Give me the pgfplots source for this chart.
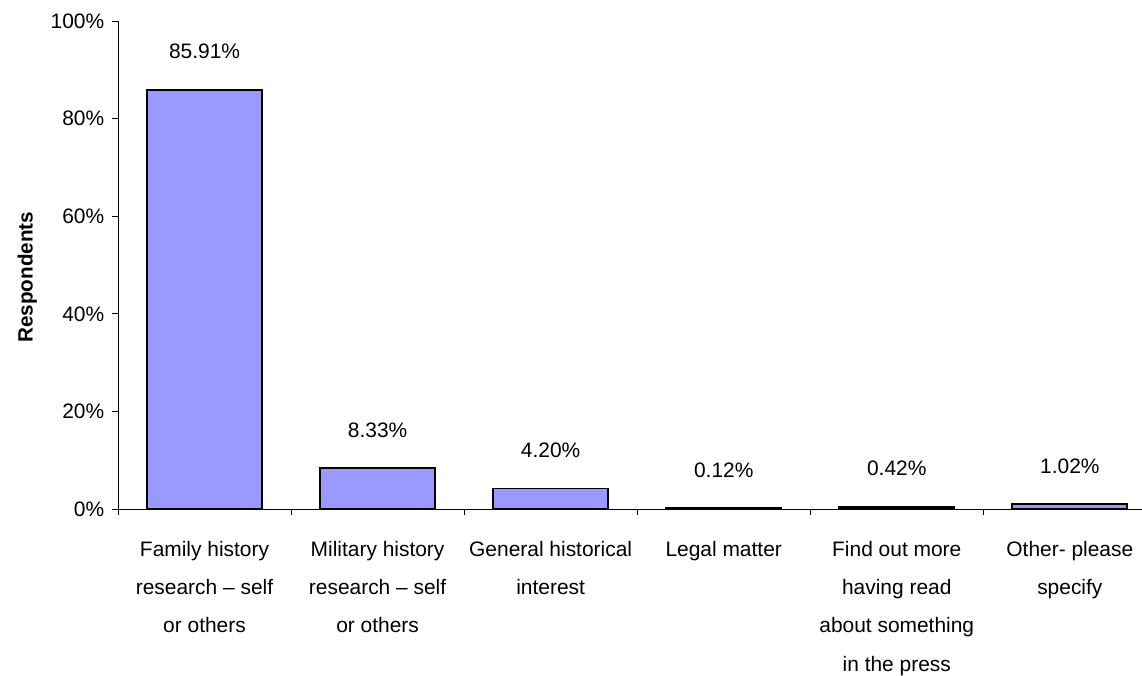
\documentclass[border=0pt]{standalone}
\usepackage{fontspec}
\setmainfont{Liberation Sans}
\usepackage{pgfplots}
\pgfplotsset{compat=1.18}
\definecolor{barfill}{HTML}{9999FF}
\begin{document}
\begin{tikzpicture}
\begin{axis}[
  scale only axis,
  width=768pt, height=366pt,
  xmin=-0.5, xmax=5.417,
  ymin=0, ymax=100,
  axis x line=bottom, axis y line=left,
  axis line style={-, black, line width=0.7pt},
  tick align=outside,
  major tick length=4.5pt,
  minor tick length=4.5pt,
  xtick={0,1,2,3,4,5},
  xticklabels={{Family history\\research – self\\or others},
               {Military history\\research – self\\or others},
               {General historical\\interest},
               {Legal matter},
               {Find out more\\having read\\about something\\in the press},
               {Other- please\\specify}},
  major x tick style={draw=none},
  minor xtick={-0.5,0.5,1.5,2.5,3.5,4.5},
  minor x tick style={black, line width=0.7pt},
  y tick style={black, line width=0.7pt},
  x tick label style={align=center, font=\fontsize{15.7}{28.7}\selectfont, yshift=-16pt},
  ytick={0,20,40,60,80,100},
  yticklabel={\pgfmathprintnumber{\tick}\%},
  y tick label style={font=\fontsize{15.7}{18}\selectfont, xshift=-2.3pt},
  /pgf/number format/assume math mode=true,
  ylabel={\textbf{Respondents}},
  ylabel style={at={(axis description cs:-0.0885,0.475)}, rotate=0, anchor=center, font=\fontsize{15.5}{18}\selectfont},
  clip=false,
]
\addplot[ybar, bar width=0.664, fill=barfill, draw=black, line width=1.4pt,
  nodes near coords={\pgfmathprintnumber[fixed, fixed zerofill, precision=2]{\pgfplotspointmeta}\%},
  every node near coord/.append style={anchor=base, yshift=23.25pt, inner sep=0pt, font=\fontsize{15.7}{18}\selectfont, text=black},
] coordinates {(0,85.91) (1,8.33) (2,4.20) (3,0.12) (4,0.42) (5,1.02)};
\coordinate (O) at (axis cs:-0.5,0);
\end{axis}
\pgfresetboundingbox
\useasboundingbox ([shift={(-88.5pt,-124.5pt)}]O) rectangle ([shift={(768pt,381.75pt)}]O);
\end{tikzpicture}
\end{document}
